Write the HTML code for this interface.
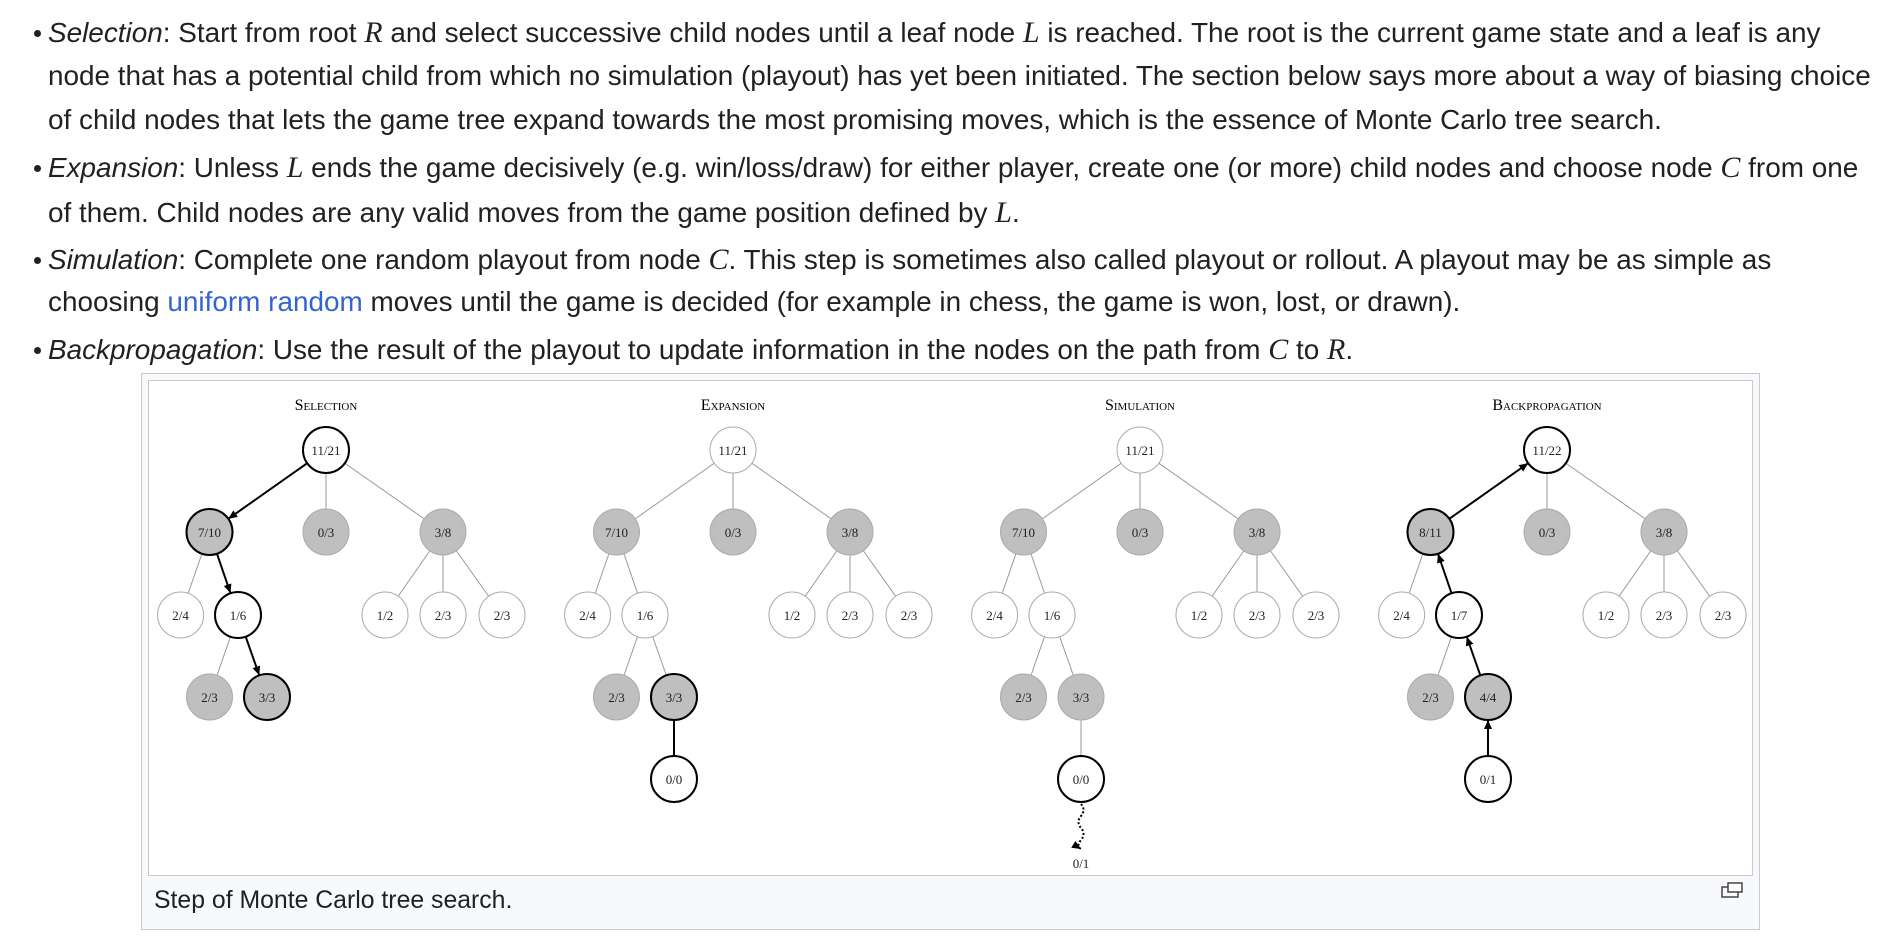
<!DOCTYPE html>
<html><head><meta charset="utf-8"><style>
body{margin:0;background:#fff;width:1888px;height:942px;overflow:hidden;font-family:"Liberation Sans",sans-serif;color:#202122;}
.t{position:absolute;left:48px;font-size:27.9px;white-space:nowrap;}
.b{position:absolute;left:34px;width:7px;height:7px;border-radius:50%;background:#202122;}
.m{font-family:"Liberation Serif",serif;font-style:italic;font-size:30px;}
a{color:#3366cc;text-decoration:none}
#outer{position:absolute;left:141px;top:373px;width:1617px;height:555px;border:1px solid #c8ccd1;background:#f8f9fa;}
#inner{position:absolute;left:148px;top:380px;width:1603px;height:494px;border:1px solid #c8ccd1;background:#fff;}
#cap{position:absolute;left:154px;top:887px;font-size:24.8px;}
svg{position:absolute;left:0;top:0}
</style></head><body>
<div class="b" style="top:30px"></div>
<div class="t" style="top:16px"><i>Selection</i>: Start from root <span class="m">R</span> and select successive child nodes until a leaf node <span class="m">L</span> is reached. The root is the current game state and a leaf is any</div>
<div class="t" style="top:60px">node that has a potential child from which no simulation (playout) has yet been initiated. The section below says more about a way of biasing choice</div>
<div class="t" style="top:104px">of child nodes that lets the game tree expand towards the most promising moves, which is the essence of Monte Carlo tree search.</div>
<div class="b" style="top:165px"></div>
<div class="t" style="top:151px"><i>Expansion</i>: Unless <span class="m">L</span> ends the game decisively (e.g. win/loss/draw) for either player, create one (or more) child nodes and choose node <span class="m">C</span> from one</div>
<div class="t" style="top:196px">of them. Child nodes are any valid moves from the game position defined by <span class="m">L</span>.</div>
<div class="b" style="top:257px"></div>
<div class="t" style="top:243px"><i>Simulation</i>: Complete one random playout from node <span class="m">C</span>. This step is sometimes also called playout or rollout. A playout may be as simple as</div>
<div class="t" style="top:286px">choosing <a>uniform random</a> moves until the game is decided (for example in chess, the game is won, lost, or drawn).</div>
<div class="b" style="top:347px"></div>
<div class="t" style="top:333px"><i>Backpropagation</i>: Use the result of the playout to update information in the nodes on the path from <span class="m">C</span> to <span class="m">R</span>.</div>
<div id="outer"></div><div id="inner"></div>
<div id="cap">Step of Monte Carlo tree search.</div>
<svg width="1888" height="942" font-family="Liberation Serif,serif" font-size="13" text-anchor="middle">
<defs><marker id="ar" markerUnits="userSpaceOnUse" markerWidth="10" markerHeight="10" refX="9" refY="4" orient="auto"><path d="M0,0 L9,4 L0,8 z" fill="#000"/></marker></defs>
<rect x="1722" y="887" width="16" height="10" fill="none" stroke="#444" stroke-width="1.5"/><rect x="1728" y="883" width="14" height="9" fill="#fff" stroke="#444" stroke-width="1.5"/>
<g id="p" stroke="#999" stroke-width="1">
<line x1="326" y1="450" x2="209.5" y2="532"/><line x1="326" y1="450" x2="326" y2="532"/><line x1="326" y1="450" x2="443" y2="532"/>
<line x1="209.5" y1="532" x2="180.6" y2="615"/><line x1="209.5" y1="532" x2="238" y2="615"/>
<line x1="443" y1="532" x2="385" y2="615"/><line x1="443" y1="532" x2="443" y2="615"/><line x1="443" y1="532" x2="502" y2="615"/>
<line x1="238" y1="615" x2="209.5" y2="697"/><line x1="238" y1="615" x2="267" y2="697"/>
</g>
<use href="#p" x="407"/><use href="#p" x="814"/><use href="#p" x="1221"/>
<g stroke="#000" stroke-width="2" fill="none">
<line x1="267" y1="720" x2="267" y2="756" transform="translate(407)"/>
<line x1="1081" y1="720" x2="1081" y2="756" stroke="#999" stroke-width="1"/>
<path d="M1081,804 q5,6 0,12 q-5,6 0,12 q5,6 0,12 q-5,6 0,9" stroke-dasharray="2,2" marker-end="url(#ar)"/>
<line x1="307.2" y1="463.2" x2="228.3" y2="518.8" marker-end="url(#ar)"/>
<line x1="217" y1="553.8" x2="230.5" y2="593.2" marker-end="url(#ar)"/>
<line x1="245.7" y1="636.7" x2="259.3" y2="675.3" marker-end="url(#ar)"/>
<g transform="translate(1221)">
<line x1="267" y1="756" x2="267" y2="720" marker-end="url(#ar)"/>
<line x1="259.3" y1="675.3" x2="245.7" y2="636.7" marker-end="url(#ar)"/>
<line x1="230.5" y1="593.2" x2="217" y2="553.8" marker-end="url(#ar)"/>
<line x1="228.3" y1="518.8" x2="307.2" y2="463.2" marker-end="url(#ar)"/>
</g></g>
<g font-variant="small-caps" font-size="16" fill="#000">
<text x="326" y="410">Selection</text><text x="733" y="410">Expansion</text><text x="1140" y="410">Simulation</text><text x="1547" y="410">Backpropagation</text>
</g>
<g fill="#222">
<g stroke="#aaa" stroke-width="1">
<circle cx="326" cy="532" r="23" fill="#bfbfbf"/><circle cx="443" cy="532" r="23" fill="#bfbfbf"/>
<circle cx="180.6" cy="615" r="23" fill="#fff"/><circle cx="385" cy="615" r="23" fill="#fff"/><circle cx="443" cy="615" r="23" fill="#fff"/><circle cx="502" cy="615" r="23" fill="#fff"/>
<circle cx="209.5" cy="697" r="23" fill="#bfbfbf"/>
</g>
<g stroke="#000" stroke-width="2">
<circle cx="326" cy="450" r="23" fill="#fff"/><circle cx="209.5" cy="532" r="23" fill="#bfbfbf"/><circle cx="238" cy="615" r="23" fill="#fff"/><circle cx="267" cy="697" r="23" fill="#bfbfbf"/>
</g>
<text x="326" y="455">11/21</text><text x="209.5" y="537">7/10</text><text x="326" y="537">0/3</text><text x="443" y="537">3/8</text>
<text x="180.6" y="620">2/4</text><text x="238" y="620">1/6</text><text x="385" y="620">1/2</text><text x="443" y="620">2/3</text><text x="502" y="620">2/3</text>
<text x="209.5" y="702">2/3</text><text x="267" y="702">3/3</text>
<g transform="translate(407)">
<g stroke="#aaa" stroke-width="1">
<circle cx="326" cy="450" r="23" fill="#fff"/><circle cx="209.5" cy="532" r="23" fill="#bfbfbf"/><circle cx="326" cy="532" r="23" fill="#bfbfbf"/><circle cx="443" cy="532" r="23" fill="#bfbfbf"/>
<circle cx="180.6" cy="615" r="23" fill="#fff"/><circle cx="238" cy="615" r="23" fill="#fff"/><circle cx="385" cy="615" r="23" fill="#fff"/><circle cx="443" cy="615" r="23" fill="#fff"/><circle cx="502" cy="615" r="23" fill="#fff"/>
<circle cx="209.5" cy="697" r="23" fill="#bfbfbf"/>
</g>
<g stroke="#000" stroke-width="2"><circle cx="267" cy="697" r="23" fill="#bfbfbf"/><circle cx="267" cy="779" r="23" fill="#fff"/></g>
<text x="326" y="455">11/21</text><text x="209.5" y="537">7/10</text><text x="326" y="537">0/3</text><text x="443" y="537">3/8</text>
<text x="180.6" y="620">2/4</text><text x="238" y="620">1/6</text><text x="385" y="620">1/2</text><text x="443" y="620">2/3</text><text x="502" y="620">2/3</text>
<text x="209.5" y="702">2/3</text><text x="267" y="702">3/3</text><text x="267" y="784">0/0</text>
</g>
<g transform="translate(814)">
<g stroke="#aaa" stroke-width="1">
<circle cx="326" cy="450" r="23" fill="#fff"/><circle cx="209.5" cy="532" r="23" fill="#bfbfbf"/><circle cx="326" cy="532" r="23" fill="#bfbfbf"/><circle cx="443" cy="532" r="23" fill="#bfbfbf"/>
<circle cx="180.6" cy="615" r="23" fill="#fff"/><circle cx="238" cy="615" r="23" fill="#fff"/><circle cx="385" cy="615" r="23" fill="#fff"/><circle cx="443" cy="615" r="23" fill="#fff"/><circle cx="502" cy="615" r="23" fill="#fff"/>
<circle cx="209.5" cy="697" r="23" fill="#bfbfbf"/><circle cx="267" cy="697" r="23" fill="#bfbfbf"/>
</g>
<circle cx="267" cy="779" r="23" fill="#fff" stroke="#000" stroke-width="2"/>
<text x="326" y="455">11/21</text><text x="209.5" y="537">7/10</text><text x="326" y="537">0/3</text><text x="443" y="537">3/8</text>
<text x="180.6" y="620">2/4</text><text x="238" y="620">1/6</text><text x="385" y="620">1/2</text><text x="443" y="620">2/3</text><text x="502" y="620">2/3</text>
<text x="209.5" y="702">2/3</text><text x="267" y="702">3/3</text><text x="267" y="784">0/0</text><text x="267" y="868">0/1</text>
</g>
<g transform="translate(1221)">
<g stroke="#aaa" stroke-width="1">
<circle cx="326" cy="532" r="23" fill="#bfbfbf"/><circle cx="443" cy="532" r="23" fill="#bfbfbf"/>
<circle cx="180.6" cy="615" r="23" fill="#fff"/><circle cx="385" cy="615" r="23" fill="#fff"/><circle cx="443" cy="615" r="23" fill="#fff"/><circle cx="502" cy="615" r="23" fill="#fff"/>
<circle cx="209.5" cy="697" r="23" fill="#bfbfbf"/>
</g>
<g stroke="#000" stroke-width="2">
<circle cx="326" cy="450" r="23" fill="#fff"/><circle cx="209.5" cy="532" r="23" fill="#bfbfbf"/><circle cx="238" cy="615" r="23" fill="#fff"/><circle cx="267" cy="697" r="23" fill="#bfbfbf"/><circle cx="267" cy="779" r="23" fill="#fff"/>
</g>
<text x="326" y="455">11/22</text><text x="209.5" y="537">8/11</text><text x="326" y="537">0/3</text><text x="443" y="537">3/8</text>
<text x="180.6" y="620">2/4</text><text x="238" y="620">1/7</text><text x="385" y="620">1/2</text><text x="443" y="620">2/3</text><text x="502" y="620">2/3</text>
<text x="209.5" y="702">2/3</text><text x="267" y="702">4/4</text><text x="267" y="784">0/1</text>
</g>
</g>
</svg>
</body></html>
